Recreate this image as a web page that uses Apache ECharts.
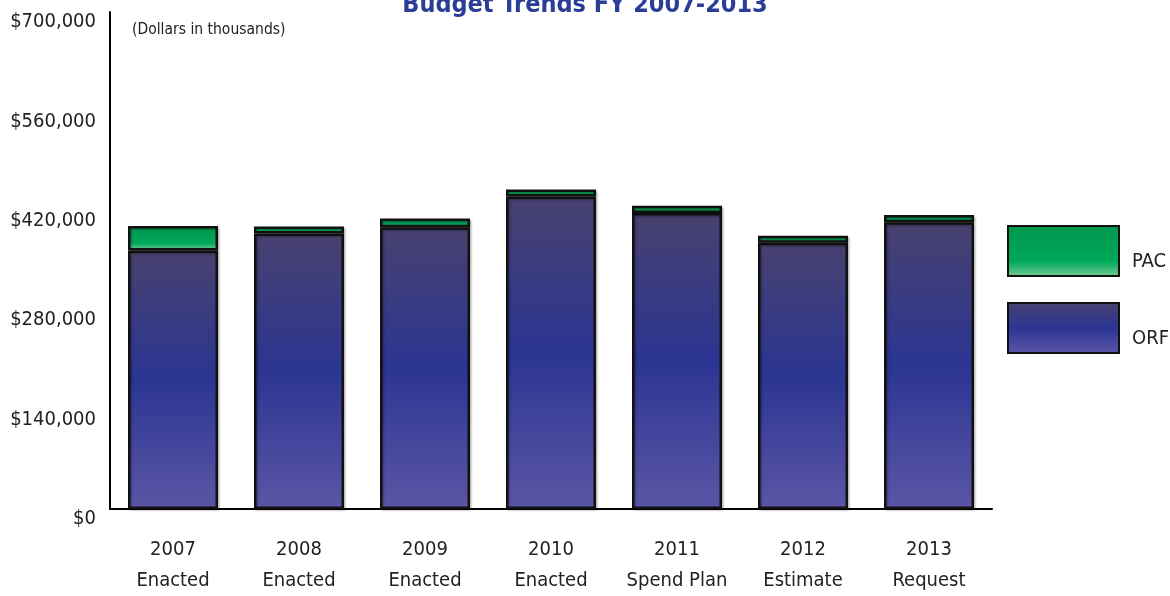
<!DOCTYPE html>
<html>
<head>
<meta charset="utf-8">
<script src="https://cdn.jsdelivr.net/npm/echarts@6/dist/echarts.min.js"></script>
<style>html,body{margin:0;padding:0;background:#fff;}#chart{width:1170px;height:596px;}</style>
</head>
<body>
<div id="chart"></div>
<script>
var categories = ['2007\nEnacted', '2008\nEnacted', '2009\nEnacted', '2010\nEnacted', '2011\nSpend Plan', '2012\nEstimate', '2013\nRequest'];
var orfValues = [364000, 388000, 397000, 440000, 417000, 375000, 404000];
var pacValues = [34500, 10000, 12000, 10000, 10000, 10000, 10000];
var yTicks = [0, 140000, 280000, 420000, 560000, 700000];

var FONT = "'Liberation Sans Narrow', 'DejaVu Sans Condensed', 'Roboto Condensed', sans-serif";
var orfGrad = new echarts.graphic.LinearGradient(0, 0, 0, 1, [
  {offset: 0, color: '#48416F'},
  {offset: 0.5, color: '#2B3592'},
  {offset: 1, color: '#5B56A6'}
]);
var pacGrad = new echarts.graphic.LinearGradient(0, 0, 0, 1, [
  {offset: 0, color: '#00964C'},
  {offset: 0.7, color: '#00A95B'},
  {offset: 1, color: '#7ACB96'}
]);
var chart = echarts.init(document.getElementById('chart'), null, {renderer: 'canvas'});
chart.setOption({
  animation: false,
  backgroundColor: '#fff',
  title: [{
    text: 'Budget Trends FY 2007-2013',
    left: 'center',
    top: -12,
    textStyle: {fontFamily: FONT, fontSize: 25, fontWeight: 'bold', color: '#2B3D96'}
  }, {
    text: '(Dollars in thousands)',
    left: 127,
    top: 17,
    textStyle: {fontFamily: FONT, fontSize: 15.5, fontWeight: 'normal', color: '#222'}
  }],
  legend: {
    orient: 'vertical',
    left: 1007,
    top: 225,
    padding: 0,
    itemWidth: 111,
    itemHeight: 50,
    itemGap: 25,
    data: ['PAC', 'ORF'],
    icon: 'rect',
    formatter: '{a|{name}}',
    textStyle: {
      fontFamily: FONT, fontSize: 20, color: '#222',
      rich: {a: {fontFamily: FONT, fontSize: 20, color: '#222', padding: [22, 0, 0, 8]}}
    }
  },
  grid: {left: 110, top: 12, width: 882, height: 504, containLabel: false},
  xAxis: {
    type: 'category',
    data: categories,
    axisLine: {lineStyle: {color: '#000', width: 2}},
    axisTick: {show: false},
    axisLabel: {fontFamily: FONT, fontSize: 20, color: '#222', lineHeight: 31, margin: 25, interval: 0}
  },
  yAxis: {
    type: 'value',
    min: yTicks[0],
    max: yTicks[yTicks.length - 1],
    interval: yTicks[1] - yTicks[0],
    axisLine: {show: true, lineStyle: {color: '#000', width: 2}},
    axisTick: {show: false},
    splitLine: {show: false},
    axisLabel: {
      fontFamily: FONT, fontSize: 20, color: '#222', margin: 14,
      verticalAlign: 'top', lineHeight: 20,
      formatter: function (v) { return '$' + v.toLocaleString('en-US'); }
    }
  },
  series: [{
    name: 'ORF',
    type: 'bar',
    stack: 'total',
    barWidth: 90,
    data: orfValues,
    itemStyle: {color: orfGrad, borderColor: '#111', borderWidth: 2.5, shadowColor: 'rgba(0,0,0,0.25)', shadowOffsetX: 1.5, shadowOffsetY: 1.5, shadowBlur: 2}
  }, {
    name: 'PAC',
    type: 'bar',
    stack: 'total',
    barWidth: 90,
    data: pacValues,
    itemStyle: {color: pacGrad, borderColor: '#111', borderWidth: 2.5, shadowColor: 'rgba(0,0,0,0.25)', shadowOffsetX: 1.5, shadowOffsetY: 1.5, shadowBlur: 2}
  }]
});
</script>
</body>
</html>
